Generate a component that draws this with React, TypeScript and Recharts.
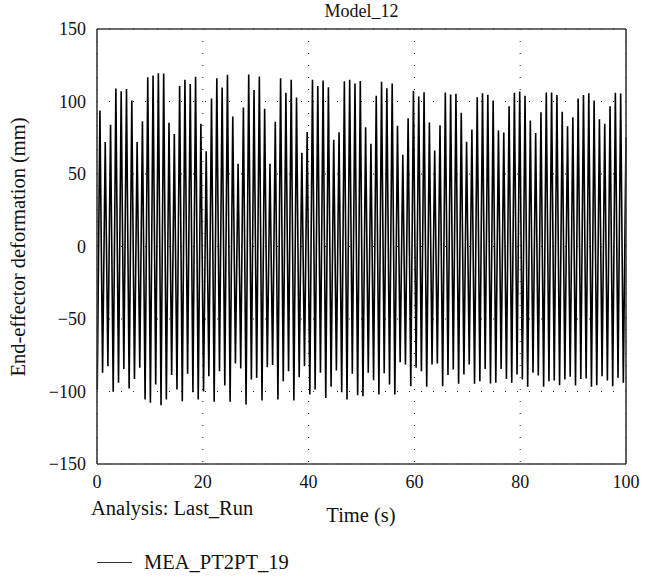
import React from 'react';
import { LineChart, Line, XAxis, YAxis, CartesianGrid } from 'recharts';

// peak value of every oscillation cycle (mm), left to right
const peaks = [
  93.8, 72, 84, 109, 107, 108.7, 100.7, 72, 86.4, 116.8,
  118, 119.5, 119.3, 85.3, 77.5, 110.6, 115, 112, 117, 84.6,
  65.7, 102, 116, 109.7, 118.4, 89.7, 57, 95.9, 118.6, 108,
  117.2, 95, 57, 86, 116, 106, 115, 102.8, 64.6, 79,
  115, 110.6, 114.5, 109.9, 73.6, 78.8, 114, 115, 112.4, 114.2,
  82.3, 70.8, 104, 113.6, 109.2, 112.4, 83.2, 63.2, 88.5, 107.4,
  103.4, 106.4, 85.5, 66.2, 83.7, 106.2, 104.8, 105.3, 92.2, 72.2,
  80.7, 103, 105.7, 104.6, 100.7, 80, 78.6, 96.8, 106, 106.9,
  103.9, 86.9, 78.2, 92.6, 106.2, 106.2, 104.4, 92.9, 83, 89.2,
  102, 104.4, 105.7, 100.7, 87.8, 84.6, 96.8, 106, 105.5,
];

// trough value of every cycle (mm)
const troughs = [
  -98.6, -87, -82.5, -100.2, -94, -84.4, -98, -91.3, -83.7, -105.5,
  -107.8, -95.2, -109.4, -105.5, -88.7, -98.6, -106.7, -87.8, -100.5, -105.5,
  -100, -89.4, -107.1, -86, -95.8, -107.1, -80.7, -84.1, -109, -91.7,
  -90.6, -106.2, -83.2, -81.8, -105.5, -92.9, -86, -106.2, -90.1, -82.5,
  -102, -98.6, -87.1, -104.4, -96.8, -85.5, -100.5, -105.5, -87.8, -102.5,
  -103.2, -87.1, -92.2, -102, -87.4, -95.2, -102, -79.8, -81.4, -96.3,
  -83.7, -86, -96.8, -81.4, -80.7, -96.3, -88.7, -84.8, -94.7, -88.3,
  -81.4, -94.7, -92.9, -84.4, -94.5, -94, -84.4, -91.3, -94, -88.3,
  -91.7, -96.8, -87.1, -89, -96.8, -92.9, -92.4, -95.7, -91.7, -89.9,
  -95.9, -91.3, -91, -96.8, -95.7, -89.4, -92.4, -96.3, -90.6, -94,
];

// timing (s)
const firstTrough = 0.05;
const cyclePeriod = 1.0045;
const lastTime = 100;
const lastValue = 75;

const xTicks = [0, 20, 40, 60, 80, 100];
const yTicks = [-150, -100, -50, 0, 50, 100, 150];

const data: { t: number; v: number }[] = [];
troughs.forEach((v, i) => {
  const t = firstTrough + i * cyclePeriod;
  data.push({ t, v });
  if (i < peaks.length) data.push({ t: t + cyclePeriod / 2, v: peaks[i] });
});
data.push({ t: lastTime, v: lastValue });

const font = '"Liberation Serif", "Times New Roman", serif';
const axisColor = '#3a3a3a';
const fmtY = (v: number) => (v < 0 ? '\u2212' + Math.abs(v) : String(v));

export default function App() {
  const tickStyle = { fill: '#111', fontSize: 18, fontFamily: font };
  const border = { stroke: axisColor, strokeWidth: 1.6 };
  return (
    <div style={{ position: 'absolute', left: 0, top: 0, width: 662, height: 578, background: '#fff', fontFamily: font, color: '#111' }}>
      <LineChart
        width={662}
        height={578}
        data={data}
        margin={{ top: 29, right: 36, left: 96, bottom: 113 }}
      >
        <CartesianGrid xAxisId="b" yAxisId="l" stroke="#222" strokeDasharray="1 11" />
        <XAxis
          xAxisId="b"
          dataKey="t"
          type="number"
          domain={[0, 100]}
          ticks={xTicks}
          height={1}
          tickLine={false}
          tickSize={5}
          tickMargin={6}
          tick={tickStyle}
          axisLine={border}
        />
        <XAxis xAxisId="bm" type="number" domain={[0, 100]} ticks={xTicks} height={1} mirror tick={false} tickSize={5} axisLine={false} tickLine={{ stroke: axisColor }} />
        <XAxis xAxisId="tm" orientation="top" type="number" domain={[0, 100]} ticks={xTicks} height={1} mirror tick={false} tickSize={5} axisLine={border} tickLine={{ stroke: axisColor }} />
        <YAxis
          yAxisId="l"
          type="number"
          domain={[-150, 150]}
          ticks={yTicks}
          width={1}
          tickLine={false}
          tickSize={5}
          tickMargin={6}
          tick={tickStyle}
          tickFormatter={fmtY}
          axisLine={border}
        />
        <YAxis yAxisId="lm" type="number" domain={[-150, 150]} ticks={yTicks} width={1} mirror tick={false} tickSize={5} axisLine={false} tickLine={{ stroke: axisColor }} />
        <YAxis yAxisId="rm" orientation="right" type="number" domain={[-150, 150]} ticks={yTicks} width={1} mirror tick={false} tickSize={5} axisLine={border} tickLine={{ stroke: axisColor }} />
        <Line
          xAxisId="b"
          yAxisId="l"
          type="linear"
          dataKey="v"
          stroke="#000"
          strokeWidth={1.6}
          dot={false}
          isAnimationActive={false}
        />
      </LineChart>

      <div style={{ position: 'absolute', left: 97, width: 529, top: 0, lineHeight: '22px', fontSize: 18, textAlign: 'center' }}>
        Model_12
      </div>
      <div
        style={{
          position: 'absolute',
          left: 18 - 150,
          top: 247 - 12,
          width: 300,
          lineHeight: '24px',
          fontSize: 20.5,
          textAlign: 'center',
          transform: 'rotate(-90deg)',
        }}
      >
        End-effector deformation (mm)
      </div>
      <div style={{ position: 'absolute', left: 91, top: 496, lineHeight: '24px', fontSize: 20.5, whiteSpace: 'nowrap' }}>
        Analysis: Last_Run
      </div>
      <div style={{ position: 'absolute', left: 261, width: 200, top: 503, lineHeight: '24px', fontSize: 20.5, textAlign: 'center' }}>
        Time (s)
      </div>
      <div style={{ position: 'absolute', left: 97, top: 550, height: 24, display: 'flex', alignItems: 'center', fontSize: 20.5, whiteSpace: 'nowrap' }}>
        <span style={{ display: 'inline-block', width: 35, borderTop: '1.5px solid #333', marginRight: 12 }} />
        MEA_PT2PT_19
      </div>
    </div>
  );
}
